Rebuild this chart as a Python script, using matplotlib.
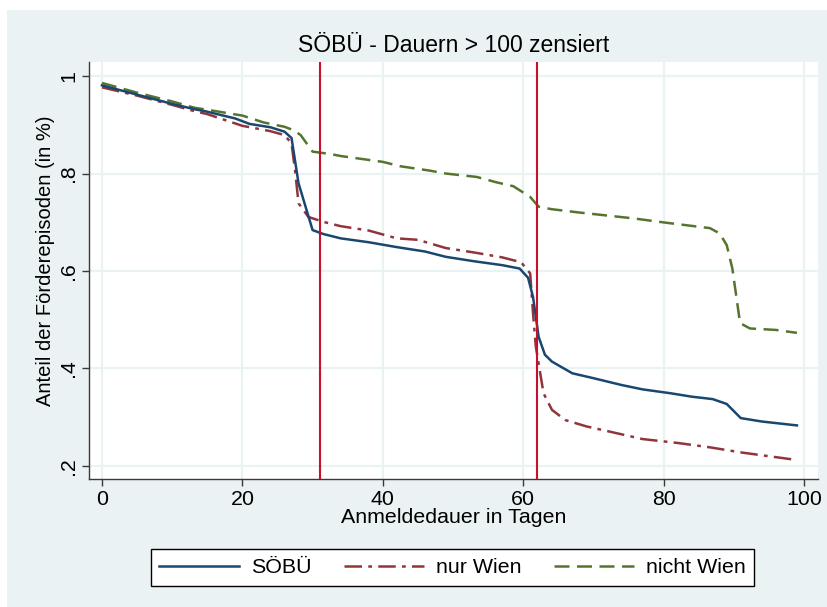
import matplotlib
matplotlib.use('Agg')
import matplotlib.pyplot as plt
from matplotlib.patches import Rectangle

# Kaplan-Meier-like curves
SOEBUE_DAYS = [0, 5, 10, 13.2, 14.7, 19, 21, 24, 26, 27, 28, 30, 31.5, 34, 38, 42,
               46, 49, 53, 57, 59.5, 60.7, 61.4, 62.2, 63.1, 64.1, 67, 70, 74,
               77, 81, 84, 87, 89, 91, 94, 99]
SOEBUE_SHARE = [0.981, 0.962, 0.943, 0.932, 0.928, 0.913, 0.902, 0.895, 0.886,
                0.873, 0.780, 0.684, 0.676, 0.667, 0.659, 0.649, 0.640, 0.629,
                0.620, 0.612, 0.605, 0.586, 0.547, 0.465, 0.428, 0.414, 0.390,
                0.380, 0.366, 0.357, 0.349, 0.342, 0.337, 0.327, 0.298, 0.291,
                0.283]

WIEN_DAYS = [0, 5, 10, 13.2, 15, 20, 24, 26, 27, 27.5, 28, 29.4, 31.5, 34, 38,
             42, 45, 49, 53, 57, 59.7, 61, 61.4, 61.8, 62.9, 64.1, 66, 69, 72.4,
             77, 82, 86.6, 91.3, 99]
WIEN_SHARE = [0.977, 0.960, 0.941, 0.928, 0.922, 0.898, 0.887, 0.879, 0.862,
              0.807, 0.739, 0.711, 0.701, 0.692, 0.683, 0.667, 0.664, 0.647,
              0.638, 0.628, 0.618, 0.595, 0.514, 0.445, 0.349, 0.315, 0.294,
              0.281, 0.270, 0.255, 0.247, 0.238, 0.227, 0.212]

NICHT_WIEN_DAYS = [0, 5, 10, 13.2, 15, 20, 23, 26, 27.3, 28.3, 30, 32.6, 34, 40,
                   42.5, 46.7, 49, 53.4, 56.2, 58.6, 61, 62.2, 64, 68, 75.7,
                   80.4, 86.6, 88, 89, 89.8, 90.9, 92.3, 96, 99]
NICHT_WIEN_SHARE = [0.986, 0.966, 0.948, 0.935, 0.931, 0.919, 0.905, 0.896,
                    0.889, 0.879, 0.845, 0.840, 0.836, 0.824, 0.815, 0.806,
                    0.800, 0.793, 0.782, 0.774, 0.752, 0.732, 0.727, 0.720,
                    0.708, 0.699, 0.688, 0.677, 0.653, 0.605, 0.493, 0.482,
                    0.479, 0.473]

CUTOFFS = [31, 62]
X_TICKS = [0, 20, 40, 60, 80, 100]
Y_TICKS = [0.2, 0.4, 0.6, 0.8, 1.0]
Y_TICK_LABELS = ['.2', '.4', '.6', '.8', '1']

BG = '#EAF2F3'
GRID = '#EAF2F3'
COLORS = ('#1A476F', '#90353B', '#55752F')


def main():
    plt.rcParams['font.family'] = ['Liberation Sans', 'DejaVu Sans']

    fig = plt.figure(figsize=(8.27, 6.07), dpi=100, facecolor='white')
    fig.patches.append(Rectangle((7 / 827, 0), 1, 597 / 607,
                                 transform=fig.transFigure,
                                 facecolor=BG, edgecolor='none', zorder=-10))

    ax = fig.add_axes([89 / 827, 128 / 607, 729 / 827, 417 / 607])
    ax.set_facecolor('white')

    ax.plot(SOEBUE_DAYS, SOEBUE_SHARE, color=COLORS[0], lw=1.8,
            label='SÖBÜ', zorder=4)
    ax.plot(WIEN_DAYS, WIEN_SHARE, color=COLORS[1], lw=1.8,
            dashes=(7, 2.5, 1.5, 2.5), label='nur Wien', zorder=3)
    ax.plot(NICHT_WIEN_DAYS, NICHT_WIEN_SHARE, color=COLORS[2], lw=1.8,
            dashes=(6, 3), label='nicht Wien', zorder=3)

    for c in CUTOFFS:
        ax.axvline(c, color='#C8102E', lw=1.5, zorder=5)

    ax.set_xlim(-1.85, 102)
    ax.set_ylim(0.173, 1.029)
    ax.set_xticks(X_TICKS)
    ax.set_yticks(Y_TICKS)
    ax.set_yticklabels(Y_TICK_LABELS, rotation=90, va='center')
    ax.grid(True, color=GRID, lw=1.6, zorder=0)
    ax.set_axisbelow(True)

    for side in ('top', 'right'):
        ax.spines[side].set_visible(False)
    for side in ('left', 'bottom'):
        ax.spines[side].set_color('#3a3a3a')
        ax.spines[side].set_linewidth(1.0)
    ax.tick_params(axis='both', labelsize=15.4, length=5, width=1.0,
                   color='#3a3a3a', pad=3)

    ax.set_xlabel('Anmeldedauer in Tagen', fontsize=15.4, labelpad=-1)
    ax.set_ylabel('Anteil der Förderepisoden (in %)', fontsize=14.5,
                  labelpad=3)
    ax.yaxis.label.set_y(0.524)
    ax.set_title('SÖBÜ - Dauern > 100 zensiert', fontsize=16.5, pad=7)

    leg = fig.legend(loc='center', bbox_to_anchor=(452.5 / 827, 1 - 567.5 / 607),
                     ncol=3, fontsize=15.4, frameon=True, fancybox=False,
                     handlelength=3.75, handletextpad=0.56, columnspacing=1.5,
                     borderpad=0.4)
    leg.get_frame().set_edgecolor('black')
    leg.get_frame().set_linewidth(1.0)
    leg.get_frame().set_facecolor('white')
    leg.get_frame().set_alpha(1)

    fig.savefig('out.png', dpi=100, facecolor=fig.get_facecolor())


if __name__ == '__main__':
    main()
